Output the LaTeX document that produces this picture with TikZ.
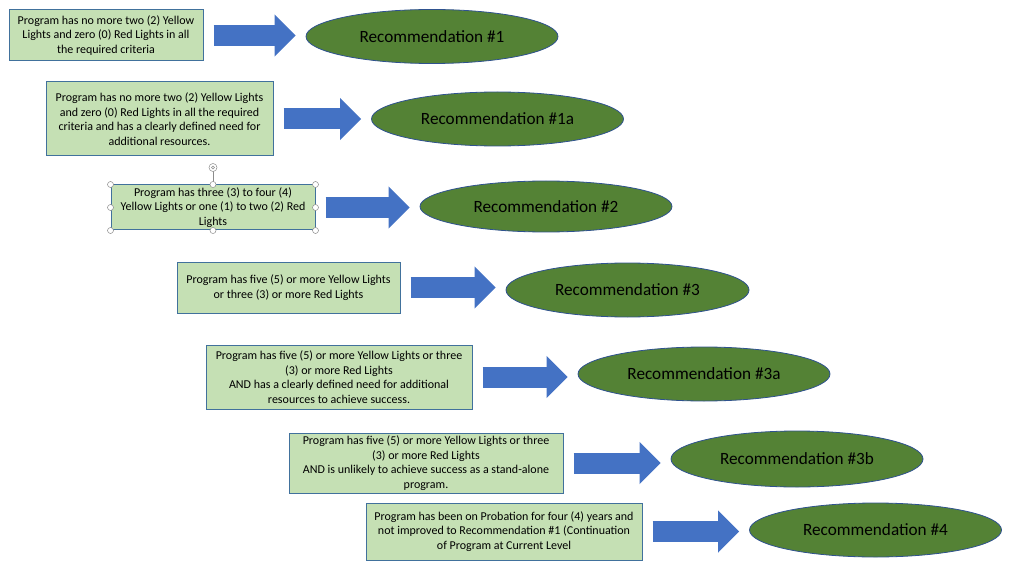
\documentclass[tikz,border=0pt]{standalone}
\usepackage{fontspec}
\setmainfont{Carlito}
\usetikzlibrary{shapes.geometric,arrows.meta}

\definecolor{boxfill}{HTML}{C5E0B4}
\definecolor{boxline}{HTML}{41719C}
\definecolor{recfill}{HTML}{548235}
\definecolor{recline}{HTML}{2F528F}
\definecolor{arrowfill}{HTML}{4472C4}

\begin{document}
\begin{tikzpicture}[x=1pt,y=-1pt,
    crit/.style={rectangle,draw=boxline,fill=boxfill,line width=1pt,inner sep=0pt,align=center,
        font=\fontsize{12}{14.6}\selectfont},
    rec/.style={ellipse,draw=recline,fill=recfill,line width=0.8pt,inner sep=0pt,
        minimum width=252,minimum height=54,font=\fontsize{17.2}{20}\selectfont},
    fat/.style={draw=arrowfill,line width=21pt,shorten <=10pt,shorten >=10pt,
        -{Triangle[length=21pt,width=41pt]}},
    grip/.style={circle,draw=black!45,fill=white,line width=0.5pt,inner sep=0pt,minimum size=6pt}]

    \useasboundingbox (0,0) rectangle (1024,569);

    % Place the criteria boxes
    \node[crit,minimum width=194,minimum height=51] (b1) at (106,35.5)
        {Program has no more two (2) Yellow\\Lights and zero (0) Red Lights in all\\the required criteria};
    \node[crit,minimum width=227,minimum height=74] (b2) at (159.5,119)
        {Program has no more two (2) Yellow Lights\\and zero (0) Red Lights in all the required\\criteria and has a clearly defined need for\\additional resources.};
    \node[crit,minimum width=204,minimum height=45] (b3) at (213,207.5)
        {Program has three (3) to four (4)\\Yellow Lights or one (1) to two (2) Red\\Lights};
    \node[crit,minimum width=223,minimum height=51] (b4) at (288.5,287.5)
        {Program has five (5) or more Yellow Lights\\or three (3) or more Red Lights};
    \node[crit,minimum width=266,minimum height=64] (b5) at (339,377)
        {Program has five (5) or more Yellow Lights or three\\(3) or more Red Lights\\AND has a clearly defined need for additional\\resources to achieve success.};
    \node[crit,minimum width=274,minimum height=60] (b6) at (426,463)
        {Program has five (5) or more Yellow Lights or three\\(3) or more Red Lights\\AND is unlikely to achieve success as a stand-alone\\program.};
    \node[crit,minimum width=276,minimum height=57] (b7) at (504,531.5)
        {Program has been on Probation for four (4) years and\\not improved to Recommendation \#1 (Continuation\\of Program at Current Level};

    % Place the recommendations
    \node[rec] (r1) at (432,36.5)  {Recommendation \#1};
    \node[rec] (r2) at (497.5,119) {Recommendation \#1a};
    \node[rec,minimum height=51] (r3) at (546,206.5) {Recommendation \#2};
    \node[rec,minimum width=243] (r4) at (627.5,290) {Recommendation \#3};
    \node[rec] (r5) at (704,374)   {Recommendation \#3a};
    \node[rec,minimum height=56] (r6) at (797,459) {Recommendation \#3b};
    \node[rec] (r7) at (875.5,530) {Recommendation \#4};

    % Draw the arrows
    \foreach \i in {1,...,7}
        \draw[fat] (b\i.east) -- (b\i.east -| r\i.west);

    % Selection handles on the third box
    \coordinate (rot) at ([yshift=17pt]b3.north);
    \draw[black!45,line width=0.5pt] (b3.north) -- (rot);
    \node[grip,minimum size=8pt] (rh) at (rot) {};
    \node[grip,minimum size=3pt] at (rh) {};
    \foreach \a in {north west,north,north east,east,south east,south,south west,west}
        \node[grip] at (b3.\a) {};

\end{tikzpicture}
\end{document}
